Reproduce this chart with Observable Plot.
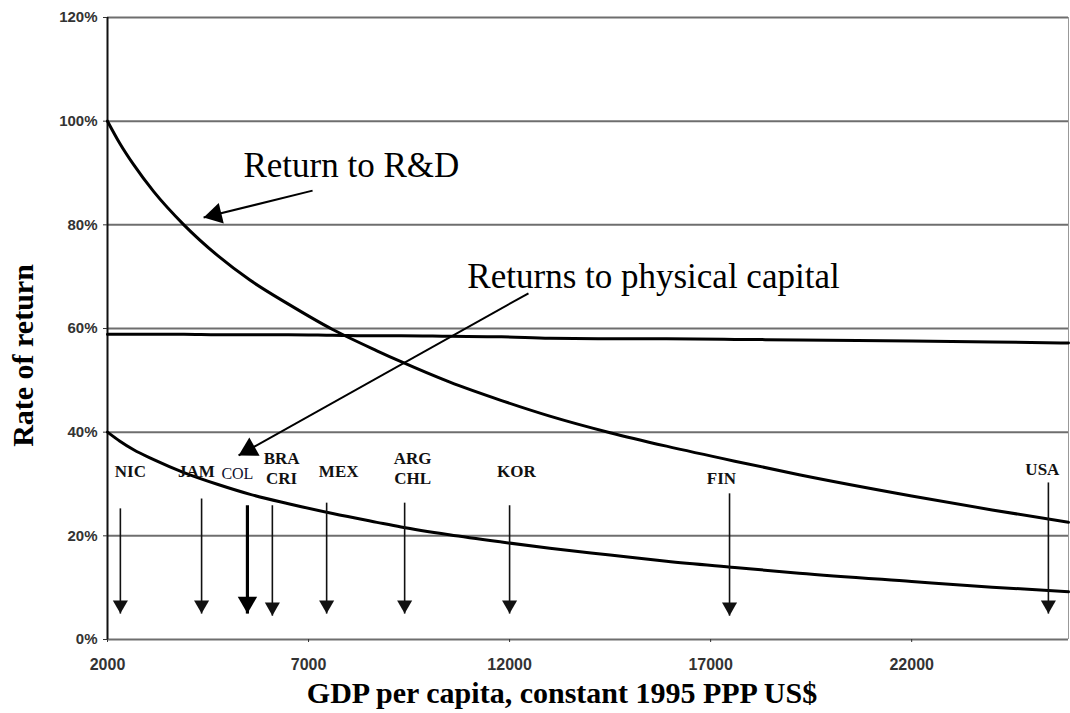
<!DOCTYPE html>
<html><head><meta charset="utf-8">
<script src="https://cdn.jsdelivr.net/npm/d3@7"></script>
<script src="https://cdn.jsdelivr.net/npm/@observablehq/plot@0.6"></script>
<style>html,body{margin:0;padding:0;background:#fff;} #chart svg{display:block;}</style>
</head><body><div id="chart"></div>
<script>
// GDP per capita sample points (constant 1995 PPP US$)
const gdp = [2000, 2300, 2650, 3150, 3900, 4750, 5550, 6500, 7600, 8700, 9300, 10500, 11800, 13000, 14500, 15900, 17600, 19200, 22000, 24000, 25900];
// Return to R&D (%)
const returnRD = [100, 95.8, 91.6, 86.4, 80.0, 74.0, 69.3, 64.7, 59.8, 55.7, 53.6, 49.7, 46.1, 43.1, 39.9, 37.3, 34.4, 31.8, 27.7, 25.0, 22.6];
// Lower curve (%)
const returnLower = [40, 38.3, 36.6, 34.7, 32.2, 29.9, 28.0, 26.2, 24.3, 22.6, 21.7, 20.2, 18.8, 17.6, 16.3, 15.1, 13.9, 12.8, 11.2, 10.1, 9.2];
// Nearly flat line (%)
const returnFlat = [58.9, 58.9, 58.9, 58.9, 58.9, 58.8, 58.8, 58.8, 58.7, 58.6, 58.6, 58.5, 58.4, 58.1, 58.0, 58.0, 57.9, 57.8, 57.6, 57.4, 57.2];

const xDomain = [2000, 25900];
const yDomain = [0, 120];
const xTicks = [2000, 7000, 12000, 17000, 22000];
const yTicks = [0, 20, 40, 60, 80, 100, 120];

// Country markers
const countries = ["NIC", "JAM", "COL", "BRA\nCRI", "MEX", "ARG\nCHL", "KOR", "FIN", "USA"];
const countryGDP = [2320, 4340, 5480, 6100, 7450, 9390, 12000, 17470, 25400];
const arrowFrom = [25.3, 27.2, 25.9, 25.9, 26.4, 26.4, 25.9, 28.2, 30.3];
const arrowTo = [5.0, 5.0, 5.0, 4.6, 5.0, 5.0, 5.0, 4.6, 5.0];
const labelGDP = [2570, 4210, 5230, 6330, 7750, 9590, 12170, 17270, 25250];
const labelRate = [32.6, 32.6, 32.0, 33.1, 32.6, 33.1, 32.6, 31.3, 33.0];

// Annotations
const notes = ["Return to R&D", "Returns to physical capital"];
const noteGDP = [5380, 10950];
const noteRate = [89.2, 67.9];
const noteFromGDP = [7100, 12470];
const noteFromRate = [86.6, 66.8];
const noteToGDP = [4390, 5260];
const noteToRate = [81.4, 35.5];

// ---- build tables ----
const series = [
  ...gdp.map((g, i) => ({gdp: g, rate: returnRD[i], s: "rd"})),
  ...gdp.map((g, i) => ({gdp: g, rate: returnLower[i], s: "lower"})),
  ...gdp.map((g, i) => ({gdp: g, rate: returnFlat[i], s: "flat"}))
];
const cRows = countries.map((c, i) => ({name: c, gdp: countryGDP[i], from: arrowFrom[i], to: arrowTo[i], lx: labelGDP[i], ly: labelRate[i]}));
const thin = cRows.filter(d => d.name !== "COL");
const col = cRows.filter(d => d.name === "COL");
const nRows = notes.map((t, i) => ({text: t, x: noteGDP[i], y: noteRate[i], x1: noteFromGDP[i], y1: noteFromRate[i], x2: noteToGDP[i], y2: noteToRate[i]}));

const W = 1070, H = 713, mL = 107, mR = 2, mT = 17, mB = 74;
const xs = d3.scaleLinear().domain(xDomain).range([mL, W - mR]);
const ys = d3.scaleLinear().domain(yDomain).range([H - mB, mT]);

const serif = "'Liberation Serif', 'Times New Roman', serif";
const sans = "'Liberation Sans', Arial, sans-serif";

function headMarks(d, r) {
  const px = xs(d.x2) - xs(d.x1), py = ys(d.y2) - ys(d.y1);
  const L = Math.hypot(px, py), ux = px / L, uy = py / L;
  const rot = Math.atan2(ux, -uy) * 180 / Math.PI;
  const off = 1.555 * r;
  return Plot.dot([d], {x: "x2", y: "y2", symbol: "triangle", r, rotate: rot, dx: -off * ux, dy: -off * uy, fill: "#000", stroke: "none"});
}

const rThin = 5.6, rCol = 7.2, rNote = 7.8;

const chart = Plot.plot({
  width: W, height: H,
  marginLeft: mL, marginRight: mR, marginTop: mT, marginBottom: mB,
  style: {color: "#333", background: "#fff"},
  x: {domain: xDomain, label: null},
  y: {domain: yDomain, label: null},
  marks: [
    Plot.ruleY(yTicks, {stroke: "#555", strokeWidth: 2, strokeOpacity: 0.85}),
    Plot.ruleX([xDomain[1]], {stroke: "#999", strokeWidth: 1}),
    Plot.ruleX([xDomain[0]], {stroke: "#111", strokeWidth: 2}),
    Plot.axisY({ticks: yTicks, tickFormat: d => d + "%", tickSize: 4, tickPadding: 6, fontSize: 15, fontWeight: "bold", fontFamily: sans, label: null}),
    Plot.axisX({ticks: xTicks, tickFormat: d3.format("d"), tickSize: 3, tickPadding: 16, fontSize: 16, fontWeight: "bold", fontFamily: sans, label: null}),
    Plot.line(series, {x: "gdp", y: "rate", z: "s", stroke: "#000", strokeWidth: 3, curve: "monotone-x"}),
    // country arrows
    Plot.link(thin, {x1: "gdp", x2: "gdp", y1: "from", y2: "to", stroke: "#111", strokeWidth: 1.6}),
    Plot.link(col, {x1: "gdp", x2: "gdp", y1: "from", y2: "to", stroke: "#000", strokeWidth: 3.2}),
    Plot.dot(thin, {x: "gdp", y: "to", symbol: "triangle", r: rThin, rotate: 180, dy: -1.555 * rThin, fill: "#111", stroke: "none"}),
    Plot.dot(col, {x: "gdp", y: "to", symbol: "triangle", r: rCol, rotate: 180, dy: -1.555 * rCol, fill: "#000", stroke: "none"}),
    Plot.text(thin, {x: "lx", y: "ly", text: "name", fontFamily: serif, fontWeight: "bold", fontSize: 17, lineHeight: 1.15, textAnchor: "middle", lineAnchor: "middle", fill: "#111"}),
    Plot.text(col, {x: "lx", y: "ly", text: "name", fontFamily: serif, fontSize: 16, textAnchor: "middle", lineAnchor: "middle", fill: "#111130"}),
    // annotations
    Plot.link(nRows, {x1: "x1", y1: "y1", x2: "x2", y2: "y2", stroke: "#000", strokeWidth: 2}),
    ...nRows.map(d => headMarks(d, rNote)),
    Plot.text(nRows, {x: "x", y: "y", text: "text", fontFamily: serif, fontSize: 35, textAnchor: "start", lineAnchor: "bottom", fill: "#000"}),
    // axis titles
    Plot.text(["Rate of return"], {frameAnchor: "left", rotate: -90, dx: -84, dy: 27, textAnchor: "middle", lineAnchor: "middle", fontFamily: serif, fontWeight: "bold", fontSize: 30, fill: "#000"}),
    Plot.text(["GDP per capita, constant 1995 PPP US$"], {frameAnchor: "bottom", dx: -26, dy: 63, textAnchor: "middle", lineAnchor: "bottom", fontFamily: serif, fontWeight: "bold", fontSize: 30, fill: "#000"})
  ]
});
document.getElementById("chart").appendChild(chart);
</script>
</body></html>
